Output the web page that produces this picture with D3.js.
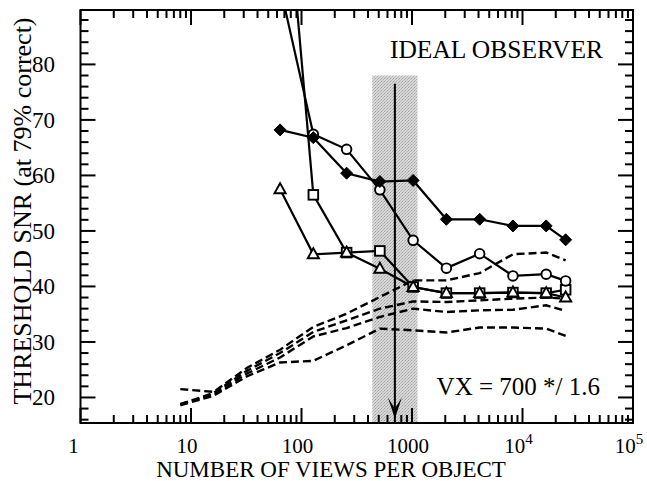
<!DOCTYPE html>
<html>
<head>
<meta charset="utf-8">
<script src="https://cdn.jsdelivr.net/npm/d3@7"></script>
<style>
  html, body { margin: 0; padding: 0; background: #fff; }
  svg { display: block; font-family: "Liberation Serif", "Times New Roman", serif; }
</style>
</head>
<body>
<svg id="chart" width="647" height="481"></svg>
<script>
// Number of views per object at which thresholds were measured
const viewsMarked = [64, 128, 256, 512, 1024, 2048, 4096, 8192, 16384, 24576];
// Threshold SNR for four ideal-observer conditions (solid lines with markers)
const snrDiamond  = [68.2, 66.8, 60.4, 58.9, 59.1, 52.1, 52.1, 50.9, 50.9, 48.4];
const snrCircle   = [94.0, 67.4, 64.7, 57.4, 48.3, 43.3, 45.9, 41.9, 42.2, 41.0];
const snrSquare   = [125.0, 56.5, 46.1, 46.4, 39.9, 38.8, 38.8, 38.9, 38.8, 39.4];
const snrTriangle = [57.5, 45.8, 46.1, 43.2, 39.9, 38.8, 38.8, 38.9, 38.8, 38.0];

// Dashed curves sampled from 8 views upward
const viewsDashed = [8, 16, 32, 64, 128, 256, 512, 1024, 2048, 4096, 8192, 16384, 24576];
const dashedA = [21.5, 21.0, 25.3, 28.6, 32.7, 35.1, 38.1, 41.1, 41.1, 42.4, 45.8, 46.1, 44.7];
const dashedB = [18.8, 20.8, 24.8, 28.0, 31.8, 33.9, 36.0, 37.3, 37.2, 37.5, 37.8, 38.0, 37.8];
const dashedC = [18.8, 20.5, 24.3, 27.2, 31.0, 32.5, 34.5, 36.0, 35.4, 35.7, 35.8, 36.6, 35.6];
const dashedD = [18.6, 20.3, 23.8, 26.3, 26.6, 29.4, 32.4, 32.1, 31.7, 32.6, 32.6, 32.4, 31.1];

// Axis ticks and labels
const xTickValues = [1, 10, 100, 1000, 1e4, 1e5];
const xTickBase   = ["1", "10", "100", "1000", "10", "10"];
const xTickExp    = ["", "", "", "", "4", "5"];
const yTickValues = [20, 30, 40, 50, 60, 70, 80];

// Critical-band annotation: VX = 700 */ 1.6
const vxCenter = 700;
const vxFactor = 1.6;
const bandTop = 78;
const arrowTop = 76.5;
const arrowTip = 16.2;

const svg = d3.select("#chart");
const pLeft = 80.5, pRight = 633, pTop = 10, pBottom = 423;

const x = d3.scaleLog().domain([1, 1e5]).range([pLeft, pRight]);
const y = d3.scaleLinear().domain([15.4, 89.8]).range([pBottom, pTop]);

// stipple pattern for the shaded band
const defs = svg.append("defs");
const pat = defs.append("pattern").attr("id", "stipple")
  .attr("patternUnits", "userSpaceOnUse").attr("width", 3).attr("height", 3);
pat.append("rect").attr("width", 3).attr("height", 3).attr("fill", "#d8d8d8");
pat.append("rect").attr("x", 0).attr("y", 0).attr("width", 1).attr("height", 1).attr("fill", "#a0a0a0");
pat.append("rect").attr("x", 2).attr("y", 1).attr("width", 1).attr("height", 1).attr("fill", "#b0b0b0");
pat.append("rect").attr("x", 1).attr("y", 2).attr("width", 1).attr("height", 1).attr("fill", "#b8b8b8");

defs.append("clipPath").attr("id", "plotClip")
  .append("rect").attr("x", pLeft).attr("y", pTop)
  .attr("width", pRight - pLeft).attr("height", pBottom - pTop);

const plot = svg.append("g").attr("clip-path", "url(#plotClip)");

// shaded band
plot.append("rect")
  .attr("x", x(vxCenter / vxFactor))
  .attr("width", x(vxCenter * vxFactor) - x(vxCenter / vxFactor))
  .attr("y", y(bandTop))
  .attr("height", pBottom - y(bandTop))
  .attr("fill", "url(#stipple)");

// dashed curves
const line = d3.line().x(d => x(d[0])).y(d => y(d[1]));
[dashedA, dashedB, dashedC, dashedD].forEach(vals => {
  plot.append("path")
    .attr("d", line(viewsDashed.map((v, i) => [v, vals[i]])))
    .attr("fill", "none")
    .attr("stroke", "#000")
    .attr("stroke-width", 2.4)
    .attr("stroke-dasharray", "8,4");
});

// solid series
const series = [
  { vals: snrSquare, shape: "square" },
  { vals: snrTriangle, shape: "triangle" },
  { vals: snrCircle, shape: "circle" },
  { vals: snrDiamond, shape: "diamond" }
];
series.forEach(s => {
  plot.append("path")
    .attr("d", line(viewsMarked.map((v, i) => [v, s.vals[i]])))
    .attr("fill", "none")
    .attr("stroke", "#000")
    .attr("stroke-width", 2.2);
});

function drawMarker(g, shape, cx, cy) {
  if (shape === "circle") {
    g.append("circle").attr("cx", cx).attr("cy", cy).attr("r", 4.8)
      .attr("fill", "#fff").attr("stroke", "#000").attr("stroke-width", 1.9);
  } else if (shape === "square") {
    g.append("rect").attr("x", cx - 4.8).attr("y", cy - 4.8).attr("width", 9.6).attr("height", 9.6)
      .attr("fill", "#fff").attr("stroke", "#000").attr("stroke-width", 1.9);
  } else if (shape === "triangle") {
    g.append("path").attr("d", `M${cx},${cy - 6}L${cx + 5.6},${cy + 4}L${cx - 5.6},${cy + 4}Z`)
      .attr("fill", "#fff").attr("stroke", "#000").attr("stroke-width", 1.9);
  } else {
    g.append("path").attr("d", `M${cx},${cy - 6}L${cx + 6},${cy}L${cx},${cy + 6}L${cx - 6},${cy}Z`)
      .attr("fill", "#000").attr("stroke", "#000").attr("stroke-width", 1);
  }
}
series.forEach(s => {
  viewsMarked.forEach((v, i) => {
    const val = s.vals[i];
    if (val > y.domain()[1]) return;
    drawMarker(plot, s.shape, x(v), y(val));
  });
});

// arrow at VX
const ax = x(vxCenter), ay0 = y(arrowTop), ay1 = y(arrowTip);
svg.append("line").attr("x1", ax).attr("x2", ax).attr("y1", ay0).attr("y2", ay1 - 10)
  .attr("stroke", "#000").attr("stroke-width", 2);
svg.append("path")
  .attr("d", `M${ax},${ay1}L${ax - 7},${ay1 - 21}L${ax},${ay1 - 10}L${ax + 7},${ay1 - 21}Z`)
  .attr("fill", "#000");

// frame
svg.append("rect").attr("x", pLeft).attr("y", pTop)
  .attr("width", pRight - pLeft).attr("height", pBottom - pTop)
  .attr("fill", "none").attr("stroke", "#000").attr("stroke-width", 2);

// ticks (inward on all four sides)
const axes = svg.append("g").attr("stroke", "#000").attr("stroke-width", 2);
const isMajorX = v => Math.abs(Math.log10(v) - Math.round(Math.log10(v))) < 1e-9;
x.ticks().forEach(v => {
  const len = isMajorX(v) ? 15 : 8;
  const px = x(v);
  axes.append("line").attr("x1", px).attr("x2", px).attr("y1", pBottom).attr("y2", pBottom - len);
  axes.append("line").attr("x1", px).attr("x2", px).attr("y1", pTop).attr("y2", pTop + len);
});
d3.range(16, 90, 2).forEach(v => {
  const len = v % 10 === 0 ? 15 : 8;
  const py = y(v);
  axes.append("line").attr("x1", pLeft).attr("x2", pLeft + len).attr("y1", py).attr("y2", py);
  axes.append("line").attr("x1", pRight).attr("x2", pRight - len).attr("y1", py).attr("y2", py);
});

// tick labels
yTickValues.forEach(v => {
  svg.append("text").attr("x", 55).attr("y", y(v)).attr("dy", "0.34em")
    .attr("text-anchor", "end").attr("font-size", 23).text(v);
});
xTickValues.forEach((v, i) => {
  const t = svg.append("text").attr("x", x(v) + (i === 0 ? -7 : -4)).attr("y", 453)
    .attr("text-anchor", "middle").attr("font-size", 21);
  t.append("tspan").text(xTickBase[i]);
  if (xTickExp[i]) t.append("tspan").attr("dy", -9).attr("font-size", 15).text(xTickExp[i]);
});

// axis titles
svg.append("text").attr("x", 331).attr("y", 477).attr("text-anchor", "middle")
  .attr("font-size", 23).text("NUMBER OF VIEWS PER OBJECT");
svg.append("text").attr("transform", "translate(31,211) rotate(-90)")
  .attr("text-anchor", "middle").attr("font-size", 26)
  .text("THRESHOLD SNR (at 79% correct)");

// annotations
svg.append("text").attr("x", 603).attr("y", 58).attr("text-anchor", "end")
  .attr("font-size", 25.5).text("IDEAL OBSERVER");
svg.append("text").attr("x", 600).attr("y", 395).attr("text-anchor", "end")
  .attr("font-size", 25).text("VX = 700 */ 1.6");
</script>
</body>
</html>
